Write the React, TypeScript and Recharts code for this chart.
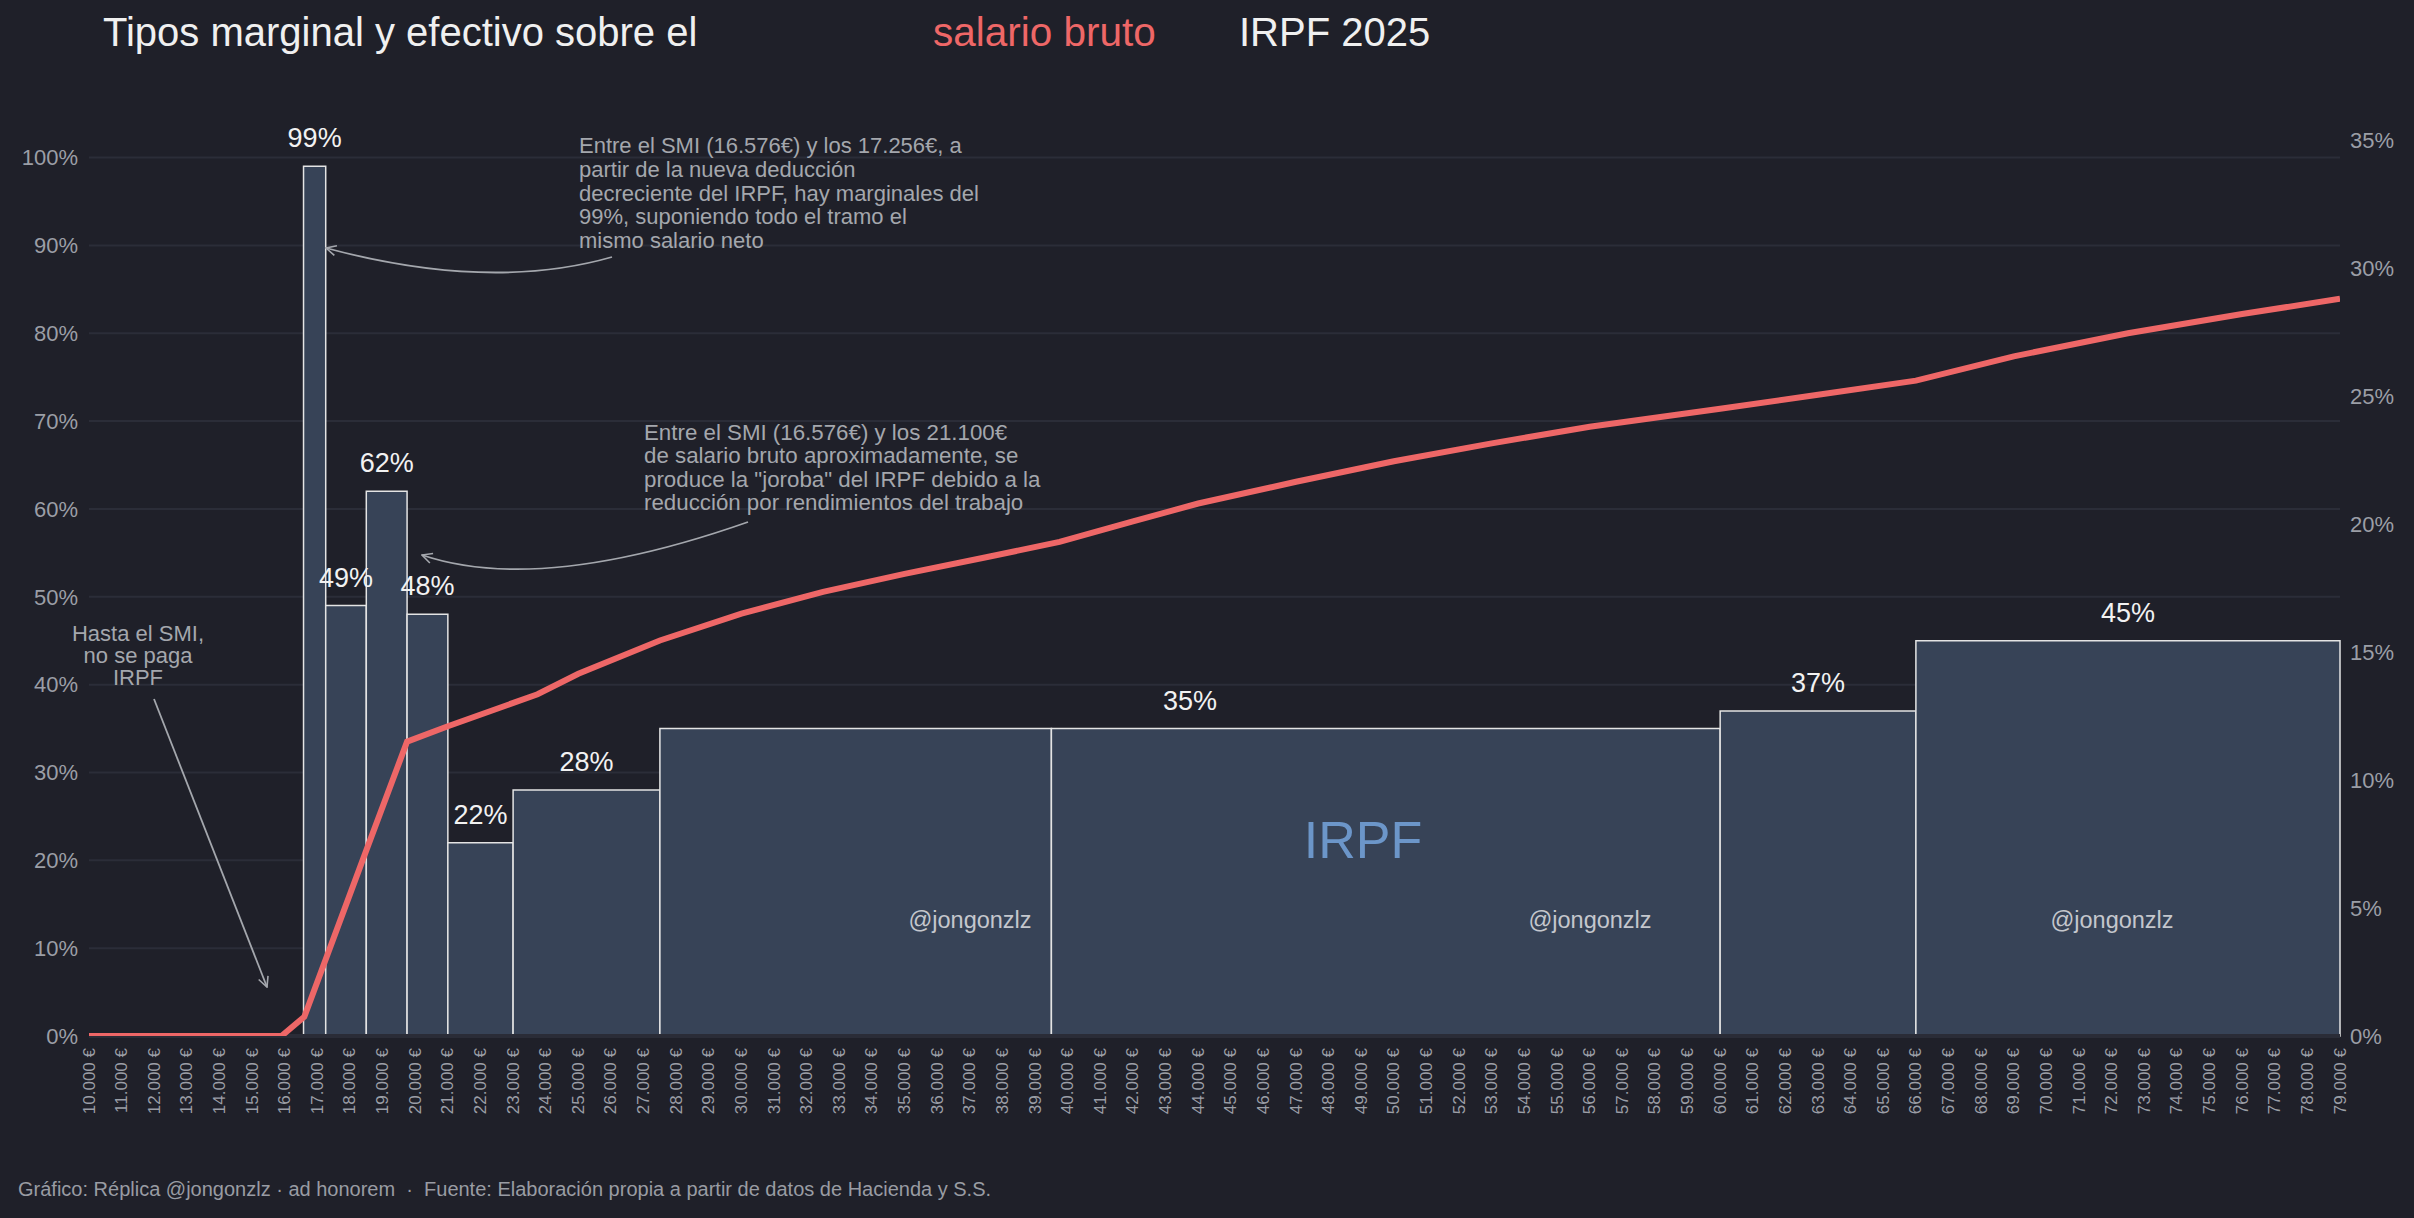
import React from 'react';
import {
  ComposedChart,
  Line,
  ReferenceArea,
  ReferenceLine,
  XAxis,
  YAxis,
} from 'recharts';

const W = 2414;
const H = 1218;

// Tramos del tipo marginal: límites en € y tipo (%) de cada tramo
const tramoLimites = [16576, 17256, 18500, 19750, 21000, 23000, 27500, 39500, 60000, 66000, 79000];
const tipoMarginal = [99, 49, 62, 48, 22, 28, 35, 35, 37, 45];

// Tipo efectivo (%) sobre el salario bruto, eje derecho
const salarioBruto = [
  10000, 15900, 16600, 18500, 19750, 21000, 23750, 25000, 27500, 30000, 32500, 35000, 37500,
  39750, 42000, 44000, 47000, 50000, 53000, 56000, 60000, 63000, 66000, 69000, 72500, 76000, 79000,
];
const tipoEfectivo = [
  0, 0, 0.75, 7.25, 11.5, 12.1, 13.35, 14.15, 15.45, 16.5, 17.35, 18.05, 18.7,
  19.3, 20.1, 20.8, 21.65, 22.45, 23.15, 23.8, 24.5, 25.05, 25.6, 26.55, 27.45, 28.2, 28.8,
];

const ticksSalario = [
  10000, 11000, 12000, 13000, 14000, 15000, 16000, 17000, 18000, 19000, 20000, 21000, 22000, 23000,
  24000, 25000, 26000, 27000, 28000, 29000, 30000, 31000, 32000, 33000, 34000, 35000, 36000, 37000,
  38000, 39000, 40000, 41000, 42000, 43000, 44000, 45000, 46000, 47000, 48000, 49000, 50000, 51000,
  52000, 53000, 54000, 55000, 56000, 57000, 58000, 59000, 60000, 61000, 62000, 63000, 64000, 65000,
  66000, 67000, 68000, 69000, 70000, 71000, 72000, 73000, 74000, 75000, 76000, 77000, 78000, 79000,
];
const ticksMarginal = [0, 10, 20, 30, 40, 50, 60, 70, 80, 90, 100];
const ticksEfectivo = [0, 5, 10, 15, 20, 25, 30, 35];

const BG = '#1f2029';
const GRID = '#2b2d38';
const BAR = '#374357';
const RED = '#ee6767';
const AXIS_TXT = '#9b9ea6';
const NOTE = '#a4a7ad';

const datos = salarioBruto.map((salario, i) => ({ salario, efectivo: tipoEfectivo[i] }));

const tramos = tipoMarginal.map((tipo, i) => ({
  x1: tramoLimites[i],
  x2: tramoLimites[i + 1],
  tipo,
}));

// tramos contiguos con el mismo tipo llevan una sola etiqueta centrada
const etiquetas = tramos.reduce<{ x1: number; x2: number; tipo: number }[]>((acc, t) => {
  const last = acc[acc.length - 1];
  if (last && last.tipo === t.tipo && last.x2 === t.x1) last.x2 = t.x2;
  else acc.push({ ...t });
  return acc;
}, []);

const formatEuro = (v: number) => `${Math.round(v / 1000)}.000 €`;

function EuroTick(props: any) {
  const { x, y, payload } = props;
  return (
    <text
      x={x}
      y={y}
      transform={`rotate(-90 ${x} ${y})`}
      textAnchor="end"
      dominantBaseline="central"
      fill={AXIS_TXT}
      fontSize={17}
    >
      {formatEuro(payload.value)}
    </text>
  );
}

function Notas() {
  return (
    <svg
      width={W}
      height={H}
      style={{ position: 'absolute', left: 0, top: 0, pointerEvents: 'none' }}
    >
      <defs>
        <marker
          id="punta"
          viewBox="0 0 12 12"
          refX="11"
          refY="6"
          markerWidth="12"
          markerHeight="12"
          markerUnits="userSpaceOnUse"
          orient="auto"
        >
          <path d="M1,1 L11,6 L1,11" fill="none" stroke={NOTE} strokeWidth={1.6} />
        </marker>
      </defs>

      {/* título */}
      <text x={103} y={46} fontSize={40} fill="#f0f0f0">
        Tipos marginal y efectivo sobre el
      </text>
      <text x={933} y={46} fontSize={40.5} fill={RED}>
        salario bruto
      </text>
      <text x={1239} y={46} fontSize={40} fill="#f0f0f0">
        IRPF 2025
      </text>

      {/* nota de la deducción */}
      <text fontSize={22} fill={NOTE}>
        <tspan x={579} y={153}>Entre el SMI (16.576€) y los 17.256€, a</tspan>
        <tspan x={579} y={177}>partir de la nueva deducción</tspan>
        <tspan x={579} y={200.5}>decreciente del IRPF, hay marginales del</tspan>
        <tspan x={579} y={224}>99%, suponiendo todo el tramo el</tspan>
        <tspan x={579} y={247.5}>mismo salario neto</tspan>
      </text>
      <path
        d="M612,257 Q490,292 326,248"
        fill="none"
        stroke={NOTE}
        strokeWidth={1.8}
        markerEnd="url(#punta)"
      />

      {/* nota de la joroba */}
      <text fontSize={22.3} fill={NOTE}>
        <tspan x={644} y={440}>Entre el SMI (16.576€) y los 21.100€</tspan>
        <tspan x={644} y={463.3}>de salario bruto aproximadamente, se</tspan>
        <tspan x={644} y={486.6}>produce la "joroba" del IRPF debido a la</tspan>
        <tspan x={644} y={510}>reducción por rendimientos del trabajo</tspan>
      </text>
      <path
        d="M748,522 Q540,595 422,555"
        fill="none"
        stroke={NOTE}
        strokeWidth={1.8}
        markerEnd="url(#punta)"
      />

      {/* nota hasta el SMI */}
      <text fontSize={22} fill={NOTE} textAnchor="middle">
        <tspan x={138} y={641}>Hasta el SMI,</tspan>
        <tspan x={138} y={663}>no se paga</tspan>
        <tspan x={138} y={685}>IRPF</tspan>
      </text>
      <path
        d="M154,699 L267,987"
        fill="none"
        stroke={NOTE}
        strokeWidth={1.8}
        markerEnd="url(#punta)"
      />

      <text x={1363} y={858} fontSize={52} fill="#6c96c9" textAnchor="middle">
        IRPF
      </text>
      {[970, 1590, 2112].map((x) => (
        <text key={x} x={x} y={928} fontSize={23.5} fill="#c4c7cd" textAnchor="middle">
          @jongonzlz
        </text>
      ))}

      <text x={18} y={1196} fontSize={20} fill="#999ca3" xmlSpace="preserve">
        Gráfico: Réplica @jongonzlz · ad honorem  ·  Fuente: Elaboración propia a partir de datos de Hacienda y S.S.
      </text>
    </svg>
  );
}

export default function App() {
  return (
    <div
      style={{
        position: 'absolute',
        left: 0,
        top: 0,
        width: W,
        height: H,
        background: BG,
        fontFamily: "'Liberation Sans', Arial, Helvetica, sans-serif",
        overflow: 'hidden',
      }}
    >
      <ComposedChart
        width={W}
        height={H}
        data={datos}
        margin={{ top: 140, right: 0, bottom: 0, left: 0 }}
      >
        <XAxis
          dataKey="salario"
          type="number"
          domain={[10000, 79000]}
          allowDataOverflow
          ticks={ticksSalario}
          interval={0}
          height={182}
          axisLine={false}
          tickLine={false}
          tickSize={6}
          tickMargin={6}
          tick={<EuroTick />}
        />
        <YAxis
          yAxisId="marg"
          orientation="left"
          width={89}
          domain={[0, 102]}
          allowDataOverflow
          ticks={ticksMarginal}
          interval={0}
          axisLine={false}
          tickLine={false}
          tickSize={6}
          tickMargin={5}
          tickFormatter={(v: number) => `${v}%`}
          tick={{ fill: AXIS_TXT, fontSize: 22 }}
        />
        <YAxis
          yAxisId="efec"
          orientation="right"
          width={74}
          domain={[0, 35]}
          allowDataOverflow
          ticks={ticksEfectivo}
          interval={0}
          axisLine={false}
          tickLine={false}
          tickSize={6}
          tickMargin={4}
          tickFormatter={(v: number) => `${v}%`}
          tick={{ fill: AXIS_TXT, fontSize: 22 }}
        />

        {/* rejilla horizontal del eje izquierdo */}
        {ticksMarginal.map((v) => (
          <ReferenceLine
            key={`grid-${v}`}
            yAxisId="marg"
            y={v}
            stroke={GRID}
            strokeWidth={2}
            zIndex={-100}
          />
        ))}

        {tramos.map((t) => (
          <ReferenceArea
            key={`tramo-${t.x1}`}
            yAxisId="marg"
            x1={t.x1}
            x2={t.x2}
            y1={0}
            y2={t.tipo}
            fill={BAR}
            fillOpacity={1}
            stroke="#e4e4e4"
            strokeWidth={1.5}
            zIndex={100}
          />
        ))}
        <ReferenceLine yAxisId="marg" y={0} stroke="#2a2c37" strokeWidth={4} zIndex={150} />
        {etiquetas.map((t) => (
          <ReferenceArea
            key={`etiqueta-${t.x1}`}
            yAxisId="marg"
            x1={t.x1}
            x2={t.x2}
            y1={0}
            y2={t.tipo}
            fill="none"
            fillOpacity={0}
            stroke="none"
            zIndex={160}
            label={{
              value: `${t.tipo}%`,
              position: 'top',
              offset: 19,
              fill: '#f2f2f2',
              fontSize: 27,
            }}
          />
        ))}

        <Line
          yAxisId="efec"
          dataKey="efectivo"
          type="linear"
          stroke={RED}
          strokeWidth={6}
          dot={false}
          activeDot={false}
          isAnimationActive={false}
          zIndex={400}
        />
      </ComposedChart>
      <Notas />
    </div>
  );
}
